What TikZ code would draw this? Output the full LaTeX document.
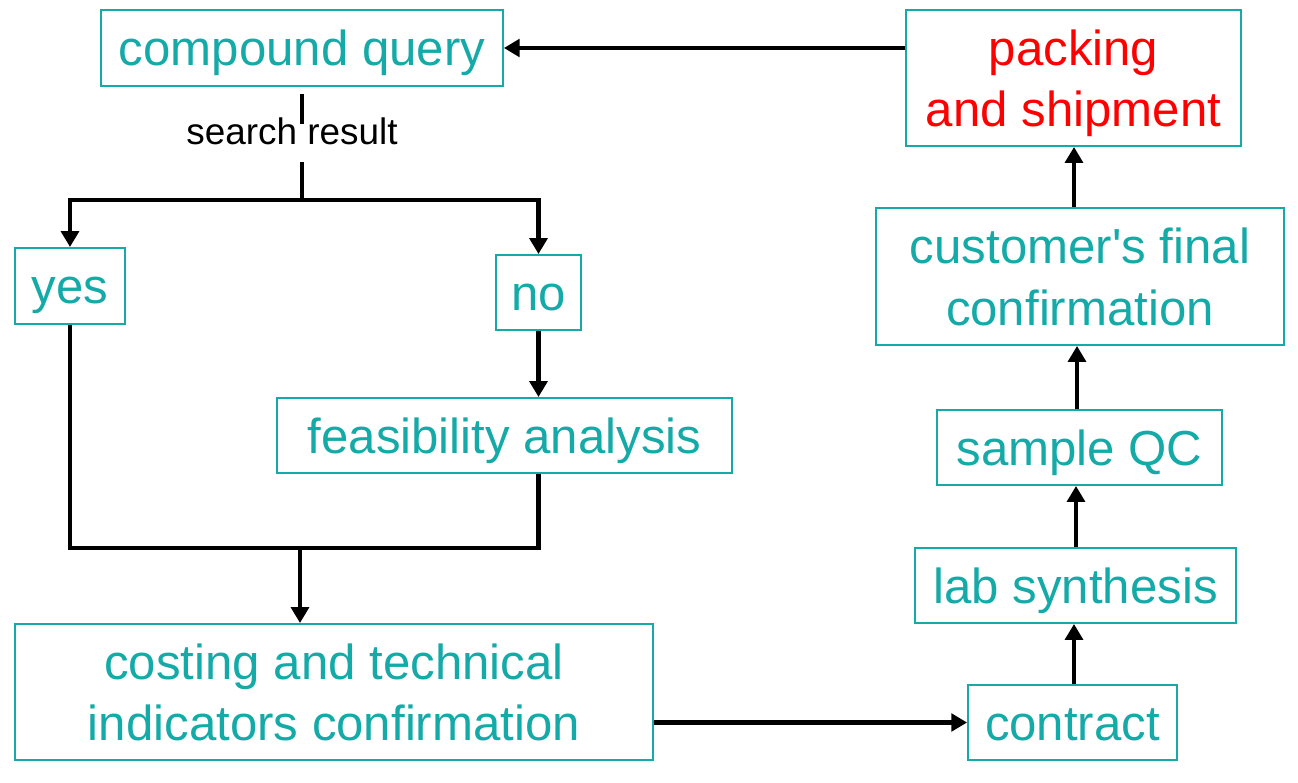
\documentclass[tikz,border=0pt]{standalone}
\usepackage{fontspec}
\setmainfont{Liberation Sans}
\usetikzlibrary{arrows.meta}
\definecolor{teal}{RGB}{20,170,168}

\begin{document}
\begin{tikzpicture}[x=0.02cm,y=-0.02cm,
  box/.style={draw=teal,line width=1.1pt,text=teal,inner sep=0pt,align=center,
    text depth=0pt,font=\fontsize{28}{35}\selectfont},
  oneline/.style={text height=20pt},
  conn/.style={line width=2.8pt},
  arr/.style={conn,-{Triangle[length=9pt,width=10pt]}}]
\useasboundingbox (0,0) rectangle (1298,783);
% left column
\node[box,oneline,minimum width=8.04cm,minimum height=1.52cm] (query) at (302,48) {compound query};
\node[inner sep=0pt,font=\fontsize{21}{25}\selectfont] (result) at (292,131) {search result};
\node[box,oneline,minimum width=2.2cm,minimum height=1.52cm] (yes) at (70,286) {yes};
\node[box,oneline,minimum width=1.7cm,minimum height=1.5cm] (no) at (538.5,292.5) {no};
\node[box,oneline,minimum width=9.1cm,minimum height=1.5cm] (feas) at (504.5,435.5) {feasibility analysis};
\node[box,minimum width=12.76cm,minimum height=2.72cm] (costing) at (334,692) {costing and technical\\indicators confirmation};
% right column
\node[box,oneline,minimum width=4.18cm,minimum height=1.5cm] (contract) at (1072.5,722.5) {contract};
\node[box,oneline,minimum width=6.42cm,minimum height=1.5cm] (lab) at (1075.5,585.5) {lab synthesis};
\node[box,oneline,minimum width=5.7cm,minimum height=1.5cm] (qc) at (1079.5,447.5) {sample QC};
\node[box,minimum width=8.16cm,minimum height=2.74cm] (custconf) at (1080,276.5) {customer\textquotesingle s final\\confirmation};
\node[box,minimum width=6.7cm,minimum height=2.72cm,text=red] (packing) at (1073.5,78) {packing\\and shipment};

% branch points
\coordinate (split) at (302,200);
\coordinate (merge) at (300,548);

% search result split
\draw[conn,shorten <=4pt,shorten >=-4pt] (query.south -| split) -- (result.north -| split);
\draw[conn,shorten <=10pt] (result.south -| split) -- (split);
\draw[arr] (split) -| (yes.north);
\draw[arr] (split) -| (no.north);
\draw[arr] (no.south) -- (no.south |- feas.north);
% merge into costing
\draw[conn] (yes.south) |- (merge);
\draw[conn] (feas.south -| no.south) |- (merge);
\draw[arr] (merge) -- (merge |- costing.north);
% to contract and up
\draw[arr] (costing.east |- contract) -- (contract.west);
\draw[arr] (contract.north -| 1074,0) -- (lab.south -| 1074,0);
\draw[arr] (lab.north -| 1076,0) -- (qc.south -| 1076,0);
\draw[arr] (qc.north -| 1077,0) -- (custconf.south -| 1077,0);
\draw[arr] (custconf.north -| 1074,0) -- (packing.south -| 1074,0);
\draw[arr] (packing.west |- query) -- (query.east);

\end{tikzpicture}
\end{document}
